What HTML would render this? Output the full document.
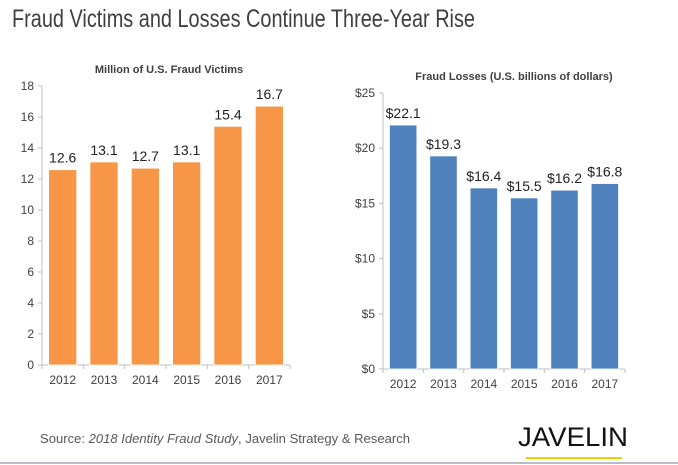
<!DOCTYPE html>
<html><head><meta charset="utf-8"><style>
html,body{margin:0;padding:0;background:#fff;}
svg{display:block;font-family:"Liberation Sans",sans-serif;}
</style></head><body>
<svg width="678" height="465" viewBox="0 0 678 465">
<text x="12" y="27" font-size="25" fill="#3f3f3f" textLength="463" lengthAdjust="spacingAndGlyphs">Fraud Victims and Losses Continue Three-Year Rise</text>
<g id="left"></g>
<g id="right"></g>
<text x="40" y="443" font-size="12.5" fill="#595959" textLength="370" lengthAdjust="spacingAndGlyphs">Source: <tspan font-style="italic">2018 Identity Fraud Study</tspan>, Javelin Strategy &amp; Research</text>
<text x="518" y="446" font-size="27" fill="#111" textLength="110" lengthAdjust="spacingAndGlyphs">JAVELIN</text>
<rect x="526" y="457" width="96" height="2" fill="#f0d000"/>
<rect x="0" y="462" width="678" height="2" fill="#b8bcc4"/>
</svg>
<script>
const years = ["2012","2013","2014","2015","2016","2017"];
const victims = [12.6, 13.1, 12.7, 13.1, 15.4, 16.7];
const victimLabels = ["12.6","13.1","12.7","13.1","15.4","16.7"];
const victimTicks = [0,2,4,6,8,10,12,14,16,18];
const losses = [22.1, 19.3, 16.4, 15.5, 16.2, 16.8];
const lossLabels = ["$22.1","$19.3","$16.4","$15.5","$16.2","$16.8"];
const lossTicks = [0,5,10,15,20,25];
const NS="http://www.w3.org/2000/svg";
function mk(p,t,a){const e=document.createElementNS(NS,t);for(const k in a)e.setAttribute(k,a[k]);p.appendChild(e);return e;}
function chart(g,cfg){
  const {x0,x1,y0,y1,max,vals,labels,ticks,tfmt,color,title,titleX}=cfg;
  const ys=v=>y0-(v/max)*(y0-y1);
  const band=(x1-x0)/years.length;
  const xs=i=>x0+band*i;
  const t=mk(g,'text',{x:titleX,y:y1-13,'font-size':11,'font-weight':'bold',fill:'#404040','text-anchor':'middle'});
  
  
  t.textContent=title;
  const ax=mk(g,'line',{x1:x0,y1:y1,x2:x0,y2:y0,stroke:'#bfbfbf'});
  
  
  const bx=mk(g,'line',{x1:x0,y1:y0,x2:x1,y2:y0,stroke:'#bfbfbf'});
  
  
  ticks.forEach(v=>{
    const y=ys(v);
    mk(g,'line',{x1:x0-4,y1:y,x2:x0,y2:y,stroke:'#bfbfbf'});
    const l=mk(g,'text',{x:x0-8,y:y+4,'font-size':12,fill:'#404040','text-anchor':'end'});
    
    
    l.textContent=tfmt(v);
  });
  for(let i=0;i<=years.length;i++) mk(g,'line',{x1:xs(i),y1:y0,x2:xs(i),y2:y0+4,stroke:'#bfbfbf'});
  vals.forEach((v,i)=>{
    const w=band*0.68, x=xs(i)+(band-w)/2;
    const r=mk(g,'rect',{x:x,y:ys(v),width:w,height:y0-ys(v),fill:color,stroke:'#fff','stroke-width':0.8});
    
    
    const lab=mk(g,'text',{x:xs(i)+band/2,y:ys(v)-7,'font-size':14,fill:'#222','text-anchor':'middle'});
    
    
    lab.textContent=labels[i];
    const xl=mk(g,'text',{x:xs(i)+band/2,y:y0+19,'font-size':12,fill:'#404040','text-anchor':'middle'});
    
    
    xl.textContent=years[i];
  });
}
chart(document.getElementById('left'),{x0:42,x1:290,y0:365,y1:86,max:18,vals:victims,labels:victimLabels,ticks:victimTicks,tfmt:v=>String(v),color:'#f79646',title:'Million of U.S. Fraud Victims',titleX:169});
chart(document.getElementById('right'),{x0:383,x1:625,y0:369,y1:93,max:25,vals:losses,labels:lossLabels,ticks:lossTicks,tfmt:v=>'$'+v,color:'#4f81bd',title:'Fraud Losses (U.S. billions of dollars)',titleX:514});
</script>
</body></html>
